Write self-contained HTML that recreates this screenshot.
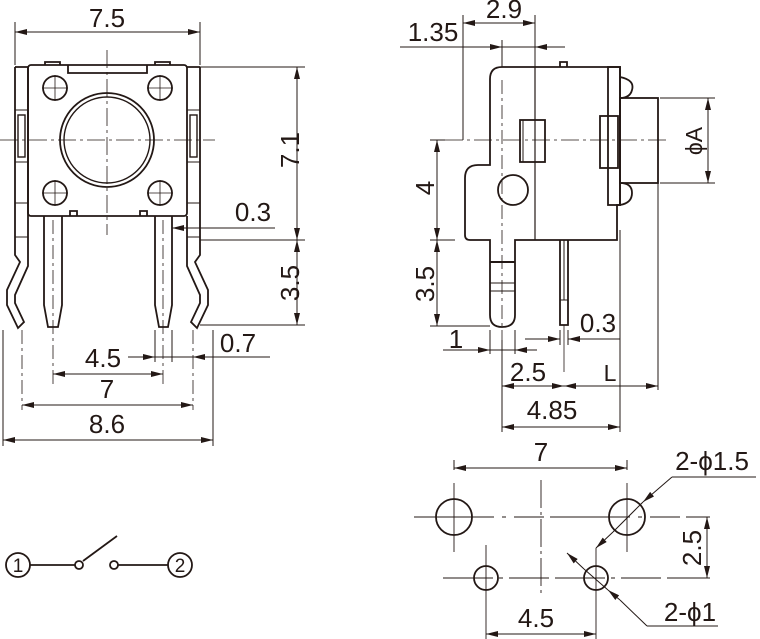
<!DOCTYPE html>
<html><head><meta charset="utf-8"><style>
html,body{margin:0;padding:0;background:#fff;}
svg{display:block;}
text{font-family:"Liberation Sans",sans-serif;fill:#231815;font-size:26px;}
</style></head><body>
<svg width="760" height="639" viewBox="0 0 760 639" xmlns="http://www.w3.org/2000/svg">
<defs>
<marker id="a" viewBox="0 0 12 6" refX="12" refY="3" markerWidth="12" markerHeight="6" orient="auto-start-reverse" markerUnits="userSpaceOnUse"><path d="M0,0 L12,3 L0,6z" fill="#231815"/></marker>
</defs>
<g stroke="#231815" fill="none" stroke-width="1">
<line x1="15" y1="22" x2="15" y2="65"/><line x1="200" y1="22" x2="200" y2="65"/>
<line x1="15" y1="32" x2="200" y2="32" marker-start="url(#a)" marker-end="url(#a)"/>
<g stroke-width="1.8">
<path d="M15,67 L28,67 M15,67 L15,255 L20,262 L7,290 L7,305 L18,328 L24,322 L15,303 L15,295 L28,266 L28,67"/>
<path d="M200,67 L187,67 M200,67 L200,255 L195,262 L208,290 L208,305 L197,328 L191,322 L200,303 L200,295 L187,266 L187,216"/>
<rect x="28" y="65" width="159" height="151" rx="3"/>
<path d="M45,65 L45,62 L60,62 L60,65 M155,65 L155,62 L170,62 L170,65"/>
<path d="M68,65 L68,73 L147,73 L147,65"/>
<path d="M70,216 L70,211 L77,211 L77,216 M140,216 L140,211 L147,211 L147,216"/>
<path d="M44,216 L44,305 L48,327 L58,327 L62,305 L62,216"/>
<path d="M155,216 L155,305 L159,327 L168,327 L172,305 L172,216"/>
</g>
<rect x="18" y="115" width="7" height="42" stroke-width="1.4"/>
<rect x="190" y="115" width="7" height="42" stroke-width="1.4"/>
<line x1="15" y1="110" x2="28" y2="110"/><line x1="15" y1="162" x2="28" y2="162"/>
<line x1="187" y1="110" x2="200" y2="110"/><line x1="187" y1="162" x2="200" y2="162"/>
<line x1="15" y1="203" x2="28" y2="203"/><line x1="187" y1="203" x2="200" y2="203"/>
<line x1="15" y1="237" x2="28" y2="237"/><line x1="187" y1="237" x2="200" y2="237"/>
<circle cx="107" cy="140" r="47" stroke-width="1.8"/>
<circle cx="107" cy="140" r="43" stroke-width="1.4"/>
<g stroke-width="1.8">
<circle cx="55" cy="88" r="12"/><circle cx="160" cy="88" r="12"/>
<circle cx="55" cy="193" r="12"/><circle cx="160" cy="193" r="12"/>
</g>
<g stroke-width="0.8">
<line x1="42" y1="88" x2="68" y2="88"/><line x1="55" y1="75" x2="55" y2="101"/>
<line x1="147" y1="88" x2="173" y2="88"/><line x1="160" y1="75" x2="160" y2="101"/>
<line x1="42" y1="193" x2="68" y2="193"/><line x1="55" y1="180" x2="55" y2="206"/>
<line x1="147" y1="193" x2="173" y2="193"/><line x1="160" y1="180" x2="160" y2="206"/>
<line x1="0" y1="140" x2="215" y2="140" stroke-dasharray="18,4,3,4"/>
<line x1="107" y1="50" x2="107" y2="235" stroke-dasharray="18,4,3,4"/>
<line x1="53" y1="220" x2="53" y2="385" stroke-dasharray="14,4,3,4"/>
<line x1="163" y1="220" x2="163" y2="385" stroke-dasharray="14,4,3,4"/>
<line x1="22" y1="330" x2="22" y2="410" stroke-dasharray="14,4,3,4"/>
<line x1="193" y1="330" x2="193" y2="410" stroke-dasharray="14,4,3,4"/>
</g>
<line x1="200" y1="67" x2="305" y2="67"/>
<line x1="200" y1="240" x2="305" y2="240"/>
<line x1="200" y1="325" x2="305" y2="325"/>
<line x1="297" y1="67" x2="297" y2="240" marker-start="url(#a)" marker-end="url(#a)"/>
<line x1="297" y1="240" x2="297" y2="325" marker-start="url(#a)" marker-end="url(#a)"/>
<line x1="275" y1="228" x2="172" y2="228" marker-end="url(#a)"/>
<line x1="155" y1="330" x2="155" y2="362"/><line x1="172" y1="330" x2="172" y2="362"/>
<line x1="128" y1="357" x2="155" y2="357" marker-end="url(#a)"/>
<line x1="155" y1="357" x2="270" y2="357"/>
<line x1="230" y1="357" x2="193" y2="357" marker-end="url(#a)"/>
<line x1="53" y1="374" x2="163" y2="374" marker-start="url(#a)" marker-end="url(#a)"/>
<line x1="22" y1="405" x2="193" y2="405" marker-start="url(#a)" marker-end="url(#a)"/>
<line x1="3" y1="330" x2="3" y2="446"/><line x1="213" y1="330" x2="213" y2="446"/>
<line x1="3" y1="440" x2="213" y2="440" marker-start="url(#a)" marker-end="url(#a)"/>
<g stroke-width="1.8">
<circle cx="18" cy="565" r="12"/><circle cx="180" cy="565" r="12"/>
<line x1="30" y1="565" x2="75" y2="565"/><circle cx="79" cy="565" r="4"/>
<line x1="83" y1="561" x2="117" y2="536"/>
<circle cx="114" cy="565" r="4"/><line x1="118" y1="565" x2="168" y2="565"/>
</g>
<line x1="463" y1="15" x2="463" y2="140"/><line x1="535" y1="15" x2="535" y2="240"/>
<line x1="463" y1="23" x2="535" y2="23" marker-start="url(#a)" marker-end="url(#a)"/>
<line x1="502" y1="40" x2="502" y2="67"/>
<line x1="400" y1="47" x2="565" y2="47"/>
<line x1="480" y1="47" x2="502" y2="47" marker-end="url(#a)"/>
<line x1="555" y1="47" x2="535" y2="47" marker-end="url(#a)"/>
<g stroke-width="1.8">
<path d="M502,67 L620,67 L620,205 L617,205 L617,230 M502,67 Q490,67 490,79 L490,165 L478,165 Q465,165 465,178 L465,235 Q465,240 470,240 L490,240 L490,315 Q490,327 502,327 Q515,327 515,315 L515,240 L617,240 L617,230"/>
<path d="M560,67 L560,62 L567,62 L567,67"/>
<rect x="608" y="67" width="12" height="138"/>
<rect x="600" y="116" width="18" height="52"/>
<rect x="620" y="98" width="38" height="85"/>
<path d="M620,77 Q635,80 632,90 Q630,98 620,98 M620,183 Q632,183 632,193 Q632,203 620,205"/>
<rect x="520" y="120" width="25" height="42"/>
<circle cx="513" cy="190" r="15"/>
<path d="M560,240 L560,325 L568,325 L568,240"/>
</g>
<line x1="535" y1="67" x2="535" y2="240" stroke-width="1.2"/>
<line x1="523" y1="120" x2="523" y2="162"/>
<line x1="490" y1="262" x2="515" y2="262" stroke-width="2"/>
<line x1="490" y1="283" x2="515" y2="283"/>
<line x1="490" y1="291" x2="515" y2="291"/>
<line x1="564" y1="240" x2="564" y2="300"/>
<line x1="560" y1="300" x2="568" y2="300"/>
<g stroke-width="0.8">
<line x1="445" y1="140" x2="670" y2="140" stroke-dasharray="18,4,3,4"/>
<line x1="502" y1="80" x2="502" y2="360" stroke-dasharray="14,4,3,4"/>
<line x1="564" y1="325" x2="564" y2="372"/>
</g>
<line x1="660" y1="98" x2="715" y2="98"/><line x1="660" y1="183" x2="715" y2="183"/>
<line x1="708" y1="98" x2="708" y2="183" marker-start="url(#a)" marker-end="url(#a)"/>
<line x1="430" y1="140" x2="445" y2="140"/>
<line x1="430" y1="240" x2="455" y2="240"/>
<line x1="430" y1="326" x2="490" y2="326"/>
<line x1="437" y1="140" x2="437" y2="240" marker-start="url(#a)" marker-end="url(#a)"/>
<line x1="437" y1="240" x2="437" y2="326" marker-start="url(#a)" marker-end="url(#a)"/>
<line x1="490" y1="330" x2="490" y2="354"/><line x1="515" y1="330" x2="515" y2="354"/>
<line x1="443" y1="350" x2="490" y2="350" marker-end="url(#a)"/>
<line x1="537" y1="350" x2="515" y2="350" marker-end="url(#a)"/>
<line x1="490" y1="350" x2="515" y2="350"/>
<line x1="560" y1="330" x2="560" y2="345"/><line x1="568" y1="330" x2="568" y2="345"/>
<line x1="525" y1="339" x2="560" y2="339" marker-end="url(#a)"/>
<line x1="620" y1="339" x2="568" y2="339" marker-end="url(#a)"/>
<line x1="620" y1="230" x2="620" y2="432"/>
<line x1="502" y1="340" x2="502" y2="432"/>
<line x1="658" y1="183" x2="658" y2="390"/>
<line x1="502" y1="386" x2="564" y2="386" marker-start="url(#a)" marker-end="url(#a)"/>
<line x1="564" y1="386" x2="620" y2="386" marker-start="url(#a)"/>
<line x1="620" y1="386" x2="658" y2="386" marker-end="url(#a)"/>
<line x1="502" y1="427" x2="620" y2="427" marker-start="url(#a)" marker-end="url(#a)"/>
<line x1="454" y1="460" x2="454" y2="470"/><line x1="627" y1="460" x2="627" y2="470"/>
<line x1="454" y1="468" x2="627" y2="468" marker-start="url(#a)" marker-end="url(#a)"/>
<g stroke-width="1.8">
<circle cx="454" cy="517" r="18"/><circle cx="627" cy="517" r="18"/>
<circle cx="486" cy="578" r="12"/><circle cx="596" cy="578" r="12"/>
</g>
<g stroke-width="0.9">
<line x1="414" y1="517" x2="710" y2="517" stroke-dasharray="80,8,4,8,30,6"/>
<line x1="443" y1="578" x2="710" y2="578" stroke-dasharray="50,6,4,6,40,6"/>
<line x1="454" y1="483" x2="454" y2="552"/>
<line x1="627" y1="483" x2="627" y2="552"/>
<line x1="541" y1="480" x2="541" y2="595" stroke-dasharray="28,4,3,4"/>
<line x1="486" y1="545" x2="486" y2="639"/>
<line x1="596" y1="548" x2="596" y2="639"/>
</g>
<line x1="707" y1="517" x2="707" y2="578" marker-start="url(#a)" marker-end="url(#a)"/>
<line x1="486" y1="634" x2="596" y2="634" marker-start="url(#a)" marker-end="url(#a)"/>
<line x1="672" y1="477" x2="756" y2="477"/>
<line x1="672" y1="477" x2="643" y2="502" marker-end="url(#a)"/>
<line x1="643" y1="502" x2="613" y2="532"/>
<line x1="613" y1="532" x2="596" y2="548" marker-end="url(#a)"/>
<line x1="567" y1="553" x2="584" y2="569" marker-start="url(#a)"/>
<line x1="584" y1="569" x2="608" y2="590"/>
<line x1="620" y1="600" x2="608" y2="590" marker-end="url(#a)"/>
<line x1="620" y1="600" x2="647" y2="626"/>
<line x1="647" y1="626" x2="718" y2="626"/>
</g>
<text x="107" y="27" text-anchor="middle">7.5</text>
<text x="253" y="221" text-anchor="middle">0.3</text>
<text x="238" y="352" text-anchor="middle">0.7</text>
<text x="103" y="367" text-anchor="middle">4.5</text>
<text x="107" y="398" text-anchor="middle">7</text>
<text x="107" y="433" text-anchor="middle">8.6</text>
<text transform="translate(299,150) rotate(-90)" text-anchor="middle">7.1</text>
<text transform="translate(299,283) rotate(-90)" text-anchor="middle">3.5</text>
<text x="18" y="572" text-anchor="middle" style="font-size:19px">1</text>
<text x="180" y="572" text-anchor="middle" style="font-size:19px">2</text>
<text x="504" y="18" text-anchor="middle">2.9</text>
<text x="433" y="41" text-anchor="middle">1.35</text>
<text transform="translate(434,188) rotate(-90)" text-anchor="middle">4</text>
<text transform="translate(434,284) rotate(-90)" text-anchor="middle">3.5</text>
<text transform="translate(702,141) rotate(-90)" text-anchor="middle" style="font-size:23px">ϕA</text>
<text x="456" y="348" text-anchor="middle">1</text>
<text x="598" y="332" text-anchor="middle">0.3</text>
<text x="528" y="381" text-anchor="middle">2.5</text>
<text x="610" y="381" text-anchor="middle" style="font-size:23px">L</text>
<text x="552" y="419" text-anchor="middle">4.85</text>
<text x="541" y="461" text-anchor="middle">7</text>
<text x="712" y="470" text-anchor="middle">2-ϕ1.5</text>
<text transform="translate(701,548) rotate(-90)" text-anchor="middle">2.5</text>
<text x="536" y="627" text-anchor="middle">4.5</text>
<text x="690" y="621" text-anchor="middle">2-ϕ1</text>
</svg>
</body></html>
